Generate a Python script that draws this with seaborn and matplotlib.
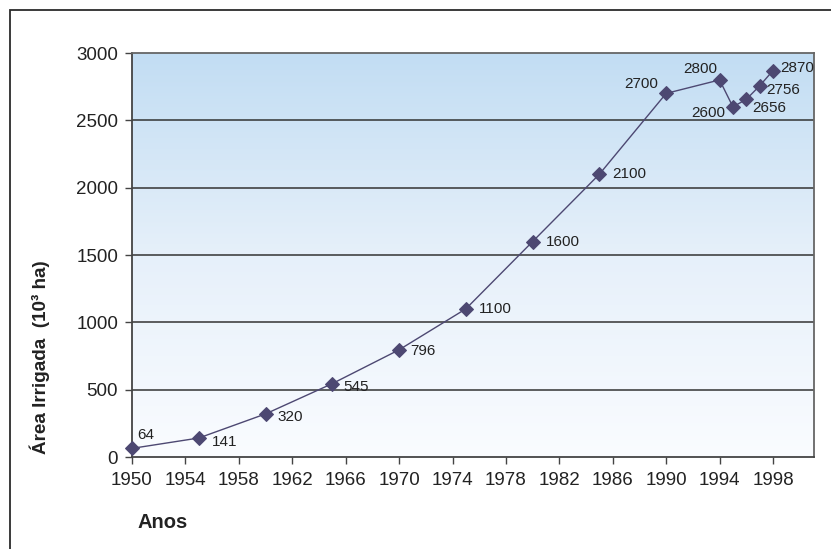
import matplotlib
matplotlib.use("Agg")
import matplotlib.pyplot as plt
import numpy as np
import pandas as pd
import seaborn as sns
from matplotlib.patches import Rectangle
from matplotlib.colors import LinearSegmentedColormap

# Irrigated area (thousand hectares) by year
anos = [1950, 1955, 1960, 1965, 1970, 1975, 1980, 1985, 1990, 1994, 1995, 1996, 1997, 1998]
area = [64, 141, 320, 545, 796, 1100, 1600, 2100, 2700, 2800, 2600, 2656, 2756, 2870]
x_ticks = [1950, 1954, 1958, 1962, 1966, 1970, 1974, 1978, 1982, 1986, 1990, 1994, 1998]
y_ticks = [0, 500, 1000, 1500, 2000, 2500, 3000]

# label placement per point: (dx px, dy px, horizontal alignment)
label_pos = [(5, 13, "left"), (13, -4, "left"), (12, -3, "left"), (11, -3, "left"),
             (11, -1, "left"), (13, 0, "left"), (13, 0, "left"), (13, 0, "left"),
             (-8, 9, "right"), (-2, 11, "right"), (-8, -6, "right"), (6, -9, "left"),
             (7, -4, "left"), (7, 3, "left")]

df = pd.DataFrame({"Ano": anos, "Area": area})

sns.set_theme(style="white")
plt.rcParams["font.family"] = ["Liberation Sans", "DejaVu Sans"]

W, H = 831, 549
fig = plt.figure(figsize=(W / 100, H / 100), dpi=100)
ax = fig.add_axes([132 / W, 1 - 457 / H, (814 - 132) / W, (457 - 53) / H])

# outer frame (partly running off the canvas)
fig.patches.append(Rectangle((10 / W, -0.1), 1.2, 1 - 10 / H + 0.1,
                             transform=fig.transFigure, fill=False,
                             edgecolor="#2b2b2b", linewidth=1.3))

# vertical gradient background
cmap = LinearSegmentedColormap.from_list("bg", ["#fafcff", "#e6f0fa", "#c2ddf3"])
grad = np.linspace(0, 1, 256).reshape(-1, 1)
ax.imshow(grad, cmap=cmap, aspect="auto", origin="lower",
          extent=[0, 1, 0, 1], transform=ax.transAxes, zorder=0)

ax.set_xlim(1950, 2001.07)
ax.set_ylim(0, 3000)

for yv in y_ticks[1:-1]:
    ax.axhline(yv, color="#333333", linewidth=1.1, zorder=1)

sns.lineplot(data=df, x="Ano", y="Area", ax=ax, color="#4d4872", linewidth=1.0,
             marker="D", markersize=7, markeredgecolor="#4d4872",
             markerfacecolor="#4d4872", zorder=3, clip_on=False)

for xv, yv, (dx, dy, ha) in zip(anos, area, label_pos):
    ax.annotate(str(yv), (xv, yv), xytext=(dx * 0.72, dy * 0.72),
                textcoords="offset points", ha=ha, va="center",
                fontsize=11, color="#222222", zorder=4)

ax.set_xticks(x_ticks)
ax.set_xticklabels([str(t) for t in x_ticks])
ax.set_yticks(y_ticks)
ax.set_yticklabels([str(t) for t in y_ticks])
ax.tick_params(axis="both", which="major", direction="out", length=5, width=1,
               color="#444444", labelsize=13.5, labelcolor="#222222", pad=3)
ax.tick_params(axis="x", pad=6)
ax.tick_params(axis="y", pad=5)
ax.xaxis.set_ticks_position("bottom")
ax.yaxis.set_ticks_position("left")

for side in ["left", "bottom"]:
    ax.spines[side].set_color("#444444")
    ax.spines[side].set_linewidth(1.3)
for side in ["right", "top"]:
    ax.spines[side].set_color("#666666")
    ax.spines[side].set_linewidth(1.3)

ax.set_xlabel("")
ax.set_ylabel("")
fig.text(137 / W, 1 - 522 / H, "Anos", fontsize=14.5, fontweight="bold",
         ha="left", va="center", color="#222222")
fig.text(40 / W, 1 - 357 / H, "Área Irrigada  (10³ ha)", fontsize=13.6,
         fontweight="bold", rotation=90, ha="center", va="center", color="#222222")

fig.savefig("out.png", dpi=100)
